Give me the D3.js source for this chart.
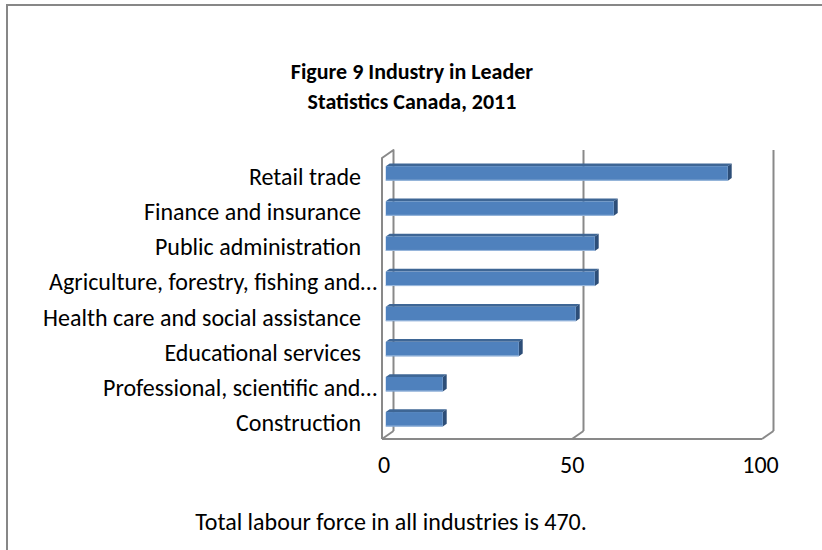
<!DOCTYPE html>
<html>
<head>
<meta charset="utf-8">
<script src="https://cdn.jsdelivr.net/npm/d3@7"></script>
<style>
  html, body { margin: 0; padding: 0; background: #fff; }
  svg { display: block; }
  text { font-family: Carlito, Calibri, Lato, "Open Sans", sans-serif; fill: #000; }
</style>
</head>
<body>
<svg id="chart" width="822" height="550"></svg>
<script>
// Industry of the labour force in Leader (Statistics Canada, 2011)
const titleLines = ["Figure 9 Industry in Leader", "Statistics Canada, 2011"];
const categories = [
  "Retail trade",
  "Finance and insurance",
  "Public administration",
  "Agriculture, forestry, fishing and…",
  "Health care and social assistance",
  "Educational services",
  "Professional, scientific and…",
  "Construction"
];
const values = [90, 60, 55, 55, 50, 35, 15, 15];
const tickValues = [0, 50, 100];
const note = "Total labour force in all industries is 470.";

const svg = d3.select("#chart");
const labelSize = 24;

// outer chart frame (runs past the right and bottom edges)
svg.append("rect")
  .attr("x", 7).attr("y", 5)
  .attr("width", 900).attr("height", 700)
  .attr("fill", "#fff")
  .attr("stroke", "#878787")
  .attr("stroke-width", 2);

// title
svg.append("g").selectAll("text")
  .data(titleLines)
  .join("text")
  .attr("x", 412)
  .attr("y", (d, i) => 79 + i * 30)
  .attr("text-anchor", "middle")
  .attr("font-size", 22)
  .attr("font-weight", "bold")
  .text(d => d);

// plot geometry: front plane of the 3D box plus a depth offset
const plotLeft = 382, plotRight = 762, plotTop = 158, plotBottom = 439;
const depthX = 11.5, depthY = -8;
const x = d3.scaleLinear().domain([0, 100]).range([plotLeft, plotRight]);
const y = d3.scaleBand().domain(categories).range([plotTop, plotBottom]);

const gridColor = "#898989";
const grid = svg.append("g")
  .attr("fill", "none")
  .attr("stroke", gridColor)
  .attr("stroke-width", 2)
  .attr("stroke-linejoin", "round");

const line = d3.line();
// left wall
grid.append("path").attr("d", line([
  [x(0), plotBottom], [x(0), plotTop], [x(0) + depthX, plotTop + depthY], [x(0) + depthX, plotBottom + depthY]
]));
// floor front edge
grid.append("path").attr("d", line([[x(0), plotBottom], [x(100), plotBottom]]));
// floor diagonals and back-wall gridlines
tickValues.forEach(t => {
  grid.append("path").attr("d", line([
    [x(t), plotBottom], [x(t) + depthX, plotBottom + depthY]
  ]));
  if (t > 0) {
    grid.append("path").attr("d", line([
      [x(t) + depthX, plotBottom + depthY], [x(t) + depthX, plotTop + depthY]
    ]));
  }
});

// 3D bars, placed in the middle of the depth
const f1 = 0.33, f2 = 0.67;
const barH = 14.5;
const ddx = (f2 - f1) * depthX, ddy = (f2 - f1) * depthY;
const data = categories.map((c, i) => ({ cat: c, value: values[i] }));

svg.append("g").selectAll("g")
  .data(data)
  .join("g")
  .each(function (d) {
    const g = d3.select(this);
    const yc = y(d.cat) + y.bandwidth() / 2 + f1 * depthY + 0.5;
    const xl = x(0) + f1 * depthX;
    const xr = x(d.value) + f1 * depthX;
    const yt = yc - barH / 2, yb = yc + barH / 2;
    // top face
    g.append("path")
      .attr("d", line([[xl, yt], [xr, yt], [xr + ddx, yt + ddy], [xl + ddx, yt + ddy]]) + "Z")
      .attr("fill", "#3e6695");
    // end face
    g.append("path")
      .attr("d", line([[xr, yt], [xr + ddx, yt + ddy], [xr + ddx, yb + ddy], [xr, yb]]) + "Z")
      .attr("fill", "#2d4e78");
    // front face
    g.append("rect")
      .attr("x", xl).attr("y", yt)
      .attr("width", xr - xl).attr("height", barH)
      .attr("fill", "#4f81bd");
    // light lower edge
    g.append("path")
      .attr("d", line([[xl, yb - 0.5], [xr, yb - 0.5]]))
      .attr("stroke", "#9bb9dd")
      .attr("stroke-width", 1);
  });

// category labels
svg.append("g").selectAll("text")
  .data(categories)
  .join("text")
  .attr("x", d => d.endsWith("…") ? 377 : 361)
  .attr("y", d => y(d) + y.bandwidth() / 2 + 9.5)
  .attr("text-anchor", "end")
  .attr("font-size", labelSize)
  .text(d => d);

// value axis labels
svg.append("g").selectAll("text")
  .data(tickValues)
  .join("text")
  .attr("x", d => x(d) + 2 - d * 0.035)
  .attr("y", 473)
  .attr("text-anchor", "middle")
  .attr("font-size", labelSize)
  .text(d => d);

// note under the axis
svg.append("text")
  .attr("x", 391)
  .attr("y", 530)
  .attr("text-anchor", "middle")
  .attr("font-size", labelSize)
  .text(note);
</script>
</body>
</html>
